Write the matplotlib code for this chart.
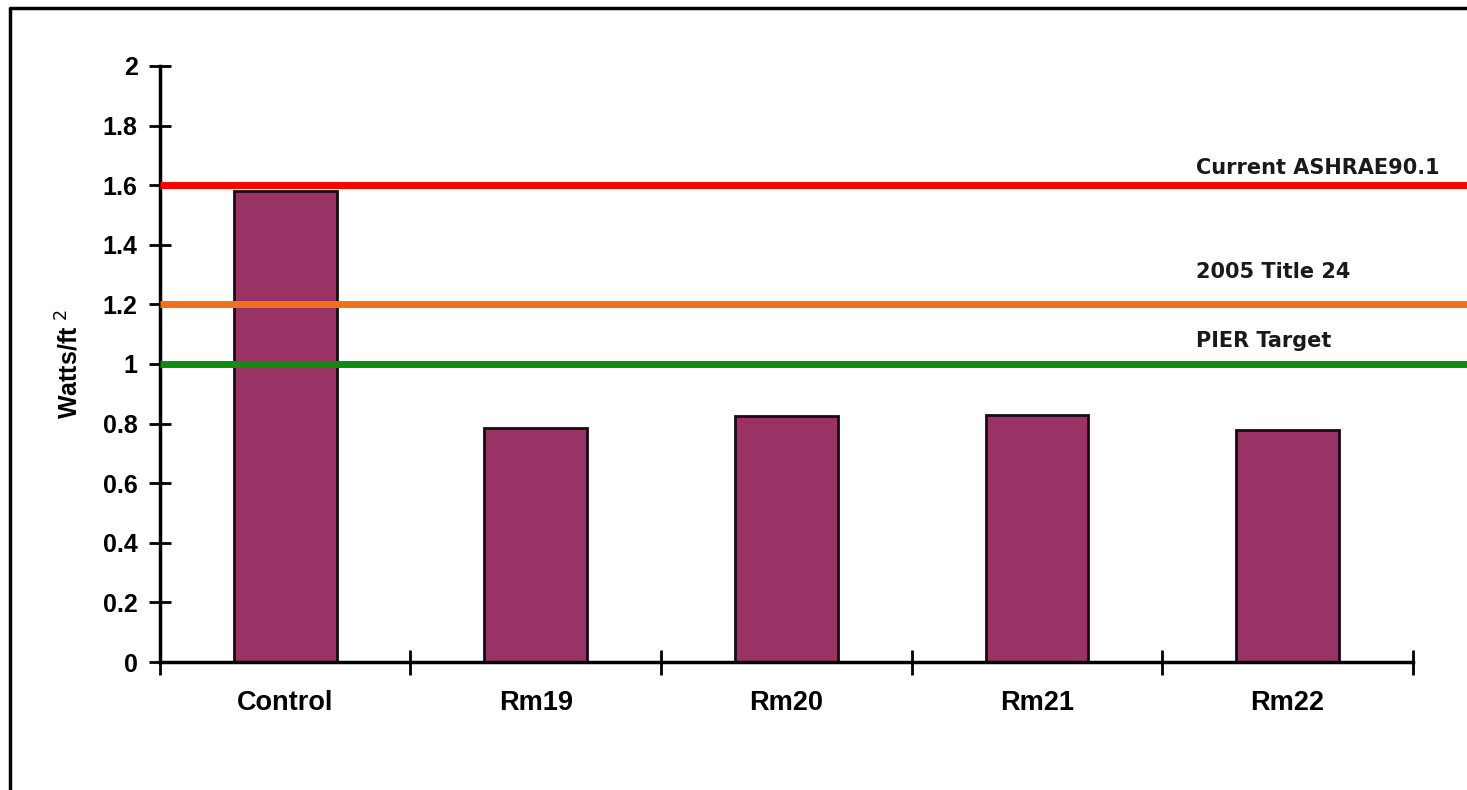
import matplotlib.pyplot as plt
from matplotlib.lines import Line2D

plt.rcParams['font.family'] = ['Liberation Sans', 'DejaVu Sans']

# data
rooms = ["Control", "Rm19", "Rm20", "Rm21", "Rm22"]
watts = [1.58, 0.785, 0.825, 0.83, 0.78]

# reference levels
ref_names = ["Current ASHRAE90.1", "2005 Title 24", "PIER Target"]
ref_values = [1.6, 1.2, 1.0]
ref_colors = ["#ff0000", "#f07020", "#138a13"]
ref_text_y = [1.625, 1.275, 1.045]

fig = plt.figure(figsize=(14.67, 7.9), dpi=100)
ax = fig.add_axes([0.109, 0.162, 0.854, 0.7545])

x = list(range(len(rooms)))
ax.bar(x, watts, width=0.41, color="#993366", edgecolor="#1a0a14",
       linewidth=2, zorder=2)

for name, val, col, ty in zip(ref_names, ref_values, ref_colors, ref_text_y):
    ax.plot([-0.5, 6], [val, val], color=col, linewidth=5, clip_on=False,
            zorder=3, solid_capstyle="butt")
    ax.text(3.635, ty, name, fontsize=15, color="#1a1a1a", va="bottom",
            ha="left", family="DejaVu Sans", fontweight="bold")

ax.set_xlim(-0.5, len(rooms) - 0.5)
ax.set_ylim(0, 2)
ax.set_yticks([i / 10 for i in range(0, 21, 2)])
ax.set_yticklabels(["0", "0.2", "0.4", "0.6", "0.8", "1", "1.2", "1.4",
                    "1.6", "1.8", "2"], fontsize=18, fontweight="bold")

# category boundaries as major ticks, labels on minor ticks
ax.set_xticks([i - 0.5 for i in range(len(rooms) + 1)])
ax.set_xticklabels([])
ax.set_xticks(x, minor=True)
ax.set_xticklabels(rooms, minor=True, fontsize=19.5, fontweight="bold")
ax.tick_params(axis="x", which="minor", length=0, pad=20)
ax.tick_params(axis="x", which="major", direction="inout", length=18,
               width=2)
ax.tick_params(axis="y", direction="inout", length=16, width=2, pad=8)

ax.spines["top"].set_visible(False)
ax.spines["right"].set_visible(False)
ax.spines["left"].set_linewidth(2.5)
ax.spines["bottom"].set_linewidth(2.5)

ax.set_ylabel("Watts/ft $^{2}$", fontsize=18, fontweight="bold",
              labelpad=14)

# outer chart frame (left and top visible)
fig.add_artist(Line2D([0.0068, 0.0068, 1.0], [0.0, 0.99, 0.99],
                      color="black", linewidth=2.5))

fig.savefig("out.png", dpi=100)
